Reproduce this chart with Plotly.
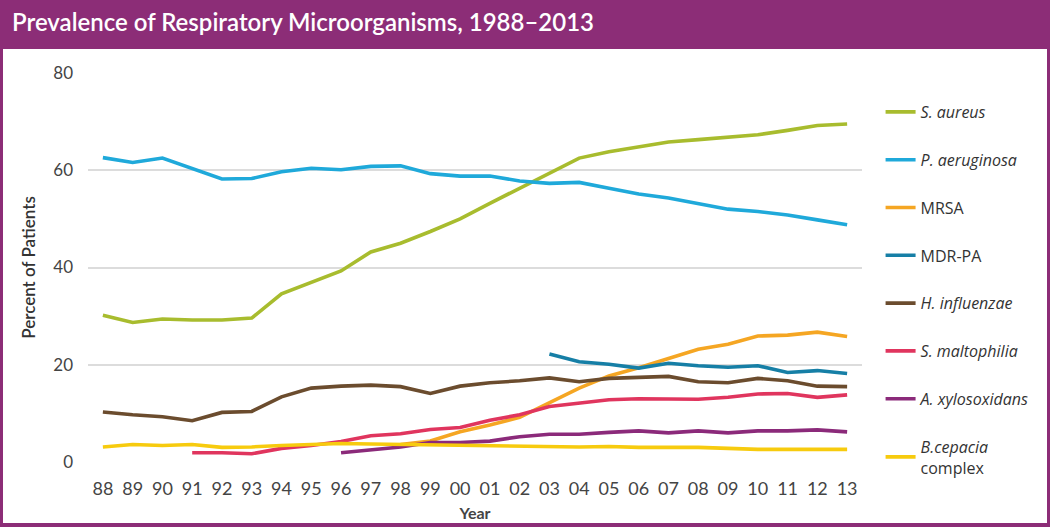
import plotly.graph_objects as go

# years 1988-2013, shown as two-digit labels
years = ["88", "89", "90", "91", "92", "93", "94", "95", "96", "97", "98", "99", "00",
         "01", "02", "03", "04", "05", "06", "07", "08", "09", "10", "11", "12", "13"]

s_aureus = [30.2, 28.7, 29.4, 29.2, 29.2, 29.6, 34.6, 37.0, 39.3, 43.2, 45.0, 47.4, 50.0,
            53.2, 56.3, 59.5, 62.5, 63.8, 64.8, 65.8, 66.3, 66.8, 67.3, 68.2, 69.2, 69.5]
p_aeruginosa = [62.6, 61.6, 62.5, 60.3, 58.2, 58.3, 59.7, 60.4, 60.1, 60.8, 60.9, 59.3, 58.8,
                58.8, 57.8, 57.3, 57.5, 56.3, 55.1, 54.3, 53.1, 52.0, 51.5, 50.8, 49.8, 48.8]
mrsa = [None, None, None, None, None, None, None, None, None, None, 3.6, 4.3, 6.2,
        7.6, 9.2, 12.1, 15.2, 17.7, 19.4, 21.3, 23.2, 24.2, 25.9, 26.1, 26.7, 25.8]
mdr_pa = [None, None, None, None, None, None, None, None, None, None, None, None, None,
          None, None, 22.2, 20.6, 20.1, 19.3, 20.3, 19.8, 19.5, 19.8, 18.4, 18.8, 18.2]
h_influenzae = [10.3, 9.7, 9.3, 8.5, 10.2, 10.4, 13.4, 15.2, 15.6, 15.8, 15.5, 14.1, 15.6,
                16.3, 16.7, 17.3, 16.5, 17.2, 17.4, 17.6, 16.5, 16.3, 17.2, 16.7, 15.6, 15.5]
s_maltophilia = [None, None, None, 1.9, 1.9, 1.7, 2.8, 3.4, 4.2, 5.4, 5.8, 6.7, 7.1,
                 8.6, 9.7, 11.4, 12.1, 12.8, 13.0, 13.0, 12.9, 13.3, 14.0, 14.1, 13.3, 13.8]
a_xylosoxidans = [None, None, None, None, None, None, None, None, 1.9, 2.5, 3.1, 4.0, 4.0,
                  4.3, 5.2, 5.7, 5.7, 6.1, 6.4, 6.0, 6.4, 6.0, 6.4, 6.4, 6.6, 6.2]
b_cepacia = [3.1, 3.6, 3.4, 3.6, 3.0, 3.1, 3.4, 3.6, 3.8, 3.7, 3.6, 3.6, 3.4,
             3.3, 3.3, 3.2, 3.1, 3.2, 3.0, 3.0, 3.0, 2.8, 2.6, 2.6, 2.6, 2.6]

series = [
    ("<i>S. aureus</i>", s_aureus, "#A8BC2E"),
    ("<i>P. aeruginosa</i>", p_aeruginosa, "#1FA9DA"),
    ("MRSA", mrsa, "#F5A623"),
    ("MDR-PA", mdr_pa, "#167FA6"),
    ("<i>H. influenzae</i>", h_influenzae, "#6B4C2E"),
    ("<i>S. maltophilia</i>", s_maltophilia, "#E0355E"),
    ("<i>A. xylosoxidans</i>", a_xylosoxidans, "#8B2A7A"),
    ("<i>B.cepacia</i><br>complex", b_cepacia, "#F7CB0E"),
]

purple = "#8C2D77"
xpos = list(range(len(years)))

fig = go.Figure()
for i, (name, vals, col) in enumerate(series):
    fig.add_trace(go.Scatter(
        x=xpos, y=vals, name=name, mode="lines",
        line=dict(color=col, width=3.6),
        legendgroup="g%d" % i,
        connectgaps=False,
    ))

# plot area in pixels: x 88..862, y 73..462
fig.update_layout(
    width=1050, height=527,
    margin=dict(l=88, r=188, t=73, b=65),
    paper_bgcolor=purple,
    plot_bgcolor="white",
    font=dict(family="Lato, 'Noto Sans', sans-serif", color="#444444"),
    title=dict(
        text="Prevalence of Respiratory Microorganisms, 1988–2013",
        x=12 / 1050, xanchor="left", xref="container",
        y=1 - 23 / 527, yanchor="middle", yref="container",
        font=dict(size=24, color="white", family="Lato, sans-serif", weight=600),
    ),
    showlegend=True,
    legend=dict(
        x=1.024, xanchor="left", y=(462 - 95) / 389, yanchor="top",
        font=dict(size=16, color="#333333", family="'Open Sans', sans-serif"),
        tracegroupgap=24,
        bgcolor="rgba(0,0,0,0)",
        maxheight=700,
    ),
    shapes=[dict(
        type="rect", xref="paper", yref="paper", layer="below",
        x0=(3 - 88) / 774, x1=(1047 - 88) / 774,
        y0=(462 - 523) / 389, y1=(462 - 49) / 389,
        fillcolor="white", line=dict(width=0),
    )],
)

fig.update_xaxes(
    range=[-0.5, 25.5],
    tickvals=xpos, ticktext=years,
    showgrid=False, zeroline=False, showline=False,
    tickfont=dict(size=18, color="#444444"),
    ticks="", ticklabelstandoff=14, automargin=False,
    title=dict(text="<b>Year</b>", font=dict(size=16, color="#444444"), standoff=9),
)
fig.update_yaxes(
    range=[0, 80], tickvals=[0, 20, 40, 60, 80],
    showgrid=True, gridcolor="#DCDCDC", gridwidth=1.6,
    zeroline=False, showline=False,
    tickfont=dict(size=17, color="#444444"),
    ticks="", ticklabelstandoff=14, automargin=False,
    title=dict(text="Percent of Patients",
               font=dict(size=17, color="#333333", weight=600), standoff=13),
)

# page margin off so the figure sits at the window's top-left corner
fig.write_html("out.html", config={"displayModeBar": False},
               post_script="document.body.style.margin='0';")
